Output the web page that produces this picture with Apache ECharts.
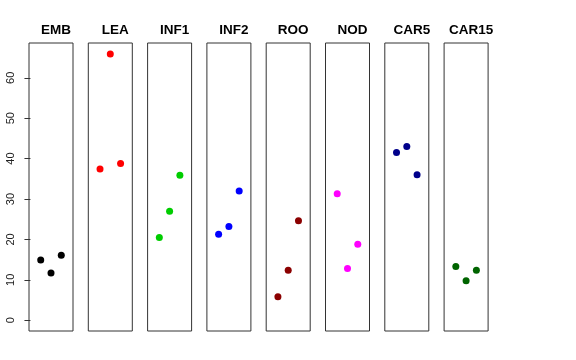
<!DOCTYPE html>
<html><head><meta charset="utf-8">
<script src="https://cdn.jsdelivr.net/npm/echarts@6/dist/echarts.min.js"></script>
<style>html,body{margin:0;padding:0;background:#fff}#c{width:576px;height:360px}</style>
</head><body><div id="c"></div>
<script>
const panels = ["EMB","LEA","INF1","INF2","ROO","NOD","CAR5","CAR15"];
const colors = ["#000000","#FF0000","#00CD00","#0000FF","#8B0000","#FF00FF","#00008B","#006400"];
const jitterPos = [1, 2, 3];
const EMB = [14.9, 11.7, 16.1];
const LEA = [37.4, 65.9, 38.8];
const INF1 = [20.5, 27.0, 35.9];
const INF2 = [21.3, 23.2, 32.0];
const ROO = [5.8, 12.4, 24.6];
const NOD = [31.3, 12.8, 18.8];
const CAR5 = [41.5, 43.0, 36.0];
const CAR15 = [13.3, 9.8, 12.4];
const yTicks = [0, 10, 20, 30, 40, 50, 60];
const values = [EMB, LEA, INF1, INF2, ROO, NOD, CAR5, CAR15];

const Y_MIN = -2.65, Y_MAX = 68.6;
const grids = [], xAxes = [], yAxes = [], series = [], titles = [];
panels.forEach((name, i) => {
  const left = 29 + i * 59.3;
  grids.push({left: left, top: 43, width: 44, height: 288, show: true,
    borderColor: '#333', borderWidth: 1, backgroundColor: 'transparent'});
  xAxes.push({type: 'value', gridIndex: i, min: -0.14, max: 4.14, show: false});
  yAxes.push({type: 'value', gridIndex: i, min: Y_MIN, max: Y_MAX,
    splitLine: {show: false},
    axisLine: {show: false},
    axisTick: {show: i === 0, length: 6, lineStyle: {color: '#333'}, customValues: yTicks},
    axisLabel: {show: i === 0, rotate: 90, margin: 13, fontSize: 11, color: '#222',
      fontFamily: 'Liberation Sans, Arial, sans-serif', customValues: yTicks}
  });
  titles.push({text: name, left: left + 22, top: 18, textAlign: 'center',
    textStyle: {fontSize: 13.5, fontWeight: 'bold', color: '#000',
      fontFamily: 'Liberation Sans, Arial, sans-serif'}});
  series.push({type: 'scatter', xAxisIndex: i, yAxisIndex: i, symbolSize: 7,
    itemStyle: {color: colors[i], opacity: 1}, silent: true,
    data: values[i].map((v, k) => [jitterPos[k], v])});
});

const chart = echarts.init(document.getElementById('c'), null, {renderer: 'canvas'});
chart.setOption({animation: false, title: titles, grid: grids, xAxis: xAxes, yAxis: yAxes, series: series});
</script></body></html>
